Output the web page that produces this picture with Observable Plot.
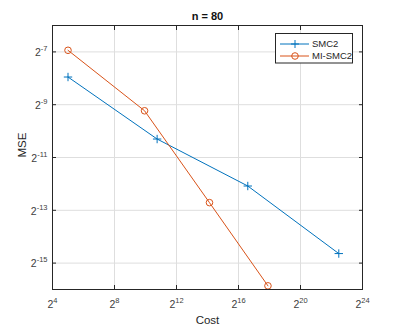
<!DOCTYPE html>
<html><head><meta charset="utf-8">
<script src="https://cdn.jsdelivr.net/npm/d3@7"></script>
<script src="https://cdn.jsdelivr.net/npm/@observablehq/plot@0.6"></script>
<style>body{margin:0;background:#fff;} svg{font-family:"Liberation Sans",Arial,sans-serif;}</style>
</head><body><div id="chart"></div>
<script>
const title = "n = 80";
const xLabel = "Cost";
const yLabel = "MSE";
const seriesNames = ["SMC2", "MI-SMC2"];
const colors = ["#0072BD", "#D95319"];
const costSMC2 = [32, 1722, 99300, 5810000];
const mseSMC2 = [0.00404, 0.000793, 0.000231, 0.0000392];
const costMI = [32, 982, 17900, 244600];
const mseMI = [0.00815, 0.001665, 0.0001493, 0.0000168];
const xTickExps = [4, 8, 12, 16, 20, 24];
const yTickExps = [-7, -9, -11, -13, -15];

const smc2 = costSMC2.map((c, i) => ({series: "SMC2", cost: c, mse: mseSMC2[i]}));
const mi = costMI.map((c, i) => ({series: "MI-SMC2", cost: c, mse: mseMI[i]}));
const data = [...smc2, ...mi];
const xTicks = xTickExps.map(e => 2 ** e);
const yTicks = yTickExps.map(e => 2 ** e);
const fmt = d => "2^" + Math.round(Math.log2(d));

const plusSymbol = {draw(ctx, size) {
  const r = Math.sqrt(size / Math.PI);
  ctx.moveTo(-r, 0); ctx.lineTo(r, 0); ctx.moveTo(0, -r); ctx.lineTo(0, r);
}};
const axisColor = "#262626";
const labelColor = "#404040";

const chart = Plot.plot({
  width: 399, height: 327,
  marginLeft: 52, marginRight: 37, marginTop: 25, marginBottom: 38,
  style: {fontFamily: "'Liberation Sans', Arial, sans-serif", background: "#fff"},
  x: {type: "log", base: 2, domain: [2 ** 4, 2 ** 24]},
  y: {type: "log", base: 2, domain: [2 ** -16, 2 ** -6]},
  color: {domain: seriesNames, range: colors},
  marks: [
    Plot.gridX(xTicks, {stroke: "#dedede", strokeOpacity: 1}),
    Plot.gridY(yTicks, {stroke: "#dedede", strokeOpacity: 1}),
    Plot.line(data, {x: "cost", y: "mse", z: "series", stroke: "series", strokeWidth: 1}),
    Plot.dot(smc2, {x: "cost", y: "mse", symbol: plusSymbol, r: 4.2, stroke: colors[0], strokeWidth: 1}),
    Plot.dot(mi, {x: "cost", y: "mse", symbol: "circle", r: 3.3, stroke: colors[1], fill: "none", strokeWidth: 1}),
    Plot.frame({stroke: axisColor, strokeWidth: 1}),
    Plot.axisX({ticks: xTicks, tickSize: -4, tickFormat: () => "", label: null, stroke: axisColor}),
    Plot.axisX({anchor: "top", ticks: xTicks, tickSize: -4, tickFormat: () => "", label: null, stroke: axisColor}),
    Plot.axisY({ticks: yTicks, tickSize: -4, tickFormat: () => "", label: null, stroke: axisColor}),
    Plot.axisY({anchor: "right", ticks: yTicks, tickSize: -4, tickFormat: () => "", label: null, stroke: axisColor}),
    Plot.text(xTicks, {x: d => d, text: fmt, frameAnchor: "bottom", lineAnchor: "middle", dy: 15, fontSize: 10.5, fill: labelColor}),
    Plot.text(yTicks, {y: d => d, text: fmt, frameAnchor: "left", lineAnchor: "middle", textAnchor: "end", dx: -5, dy: 1, fontSize: 10.5, fill: labelColor}),
    Plot.text([title], {text: d => d, frameAnchor: "top", lineAnchor: "middle", dy: -9, fontSize: 11, fontWeight: "bold", fill: "#111"}),
    Plot.text([xLabel], {text: d => d, frameAnchor: "bottom", lineAnchor: "middle", dy: 31, fontSize: 11.5, fill: "#262626"}),
    Plot.text([yLabel], {text: d => d, frameAnchor: "left", lineAnchor: "middle", dx: -30, rotate: -90, fontSize: 11.5, fill: "#262626"})
  ]
});

// superscript tick labels
chart.querySelectorAll("text").forEach(t => {
  const m = /^2\^(-?\d+)$/.exec(t.textContent);
  if (!m) return;
  t.textContent = "";
  const base = document.createElementNS("http://www.w3.org/2000/svg", "tspan");
  base.textContent = "2";
  const sup = document.createElementNS("http://www.w3.org/2000/svg", "tspan");
  sup.textContent = m[1];
  sup.setAttribute("font-size", "7.5");
  sup.setAttribute("dy", "-5");
  t.appendChild(base); t.appendChild(sup);
});

// legend box (MATLAB style, inside axes, north-east)
const svg = d3.select(chart);
const lg = svg.append("g").attr("font-size", 9.5).attr("text-anchor", "start")
  .attr("font-family", "'Liberation Sans', Arial, sans-serif");
lg.append("rect").attr("x", 275.5).attr("y", 33.5).attr("width", 77).attr("height", 29.5)
  .attr("fill", "#fff").attr("stroke", axisColor).attr("stroke-width", 1);
seriesNames.forEach((name, i) => {
  const y = 44 + i * 12;
  lg.append("line").attr("x1", 280).attr("x2", 309).attr("y1", y).attr("y2", y).attr("stroke", colors[i]);
  if (i === 0) {
    lg.append("path").attr("d", `M${291},${y}h8M${295},${y - 4}v8`).attr("stroke", colors[i]).attr("fill", "none");
  } else {
    lg.append("circle").attr("cx", 295).attr("cy", y).attr("r", 3.3).attr("stroke", colors[i]).attr("fill", "none");
  }
  lg.append("text").attr("x", 312).attr("y", y).attr("dy", "0.35em").attr("fill", "#262626").text(name);
});

document.getElementById("chart").appendChild(chart);
</script>
</body></html>
